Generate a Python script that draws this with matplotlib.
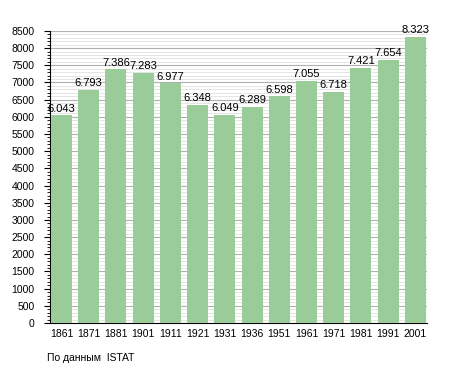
import matplotlib.pyplot as plt
from matplotlib.ticker import MultipleLocator

years = ['1861', '1871', '1881', '1901', '1911', '1921', '1931', '1936',
         '1951', '1961', '1971', '1981', '1991', '2001']
population = [6043, 6793, 7386, 7283, 6977, 6348, 6049, 6289,
              6598, 7055, 6718, 7421, 7654, 8323]

fig = plt.figure(figsize=(4.55, 3.73), dpi=100)
ax = fig.add_axes([0.11, 0.134, 0.828, 0.783])

x = range(len(years))
ax.bar(x, population, width=0.77, color='#99cc99', zorder=3)
for i, v in zip(x, population):
    label = '{:,}'.format(v).replace(',', '.')
    ax.text(i, v + 50, label, ha='center', va='bottom', fontsize=8,
            family='Liberation Sans', zorder=4)

ax.set_xlim(-0.42, len(years) - 0.58)
ax.set_ylim(0, 8500)
ax.yaxis.set_major_locator(MultipleLocator(500))
ax.yaxis.set_minor_locator(MultipleLocator(100))
ax.grid(axis='y', which='major', color='#b0b0b0', linewidth=0.8, zorder=0)
ax.grid(axis='y', which='minor', color='#e0e0e0', linewidth=0.6, zorder=0)
ax.set_xticks(list(x))
ax.set_xticklabels(years)
ax.tick_params(axis='x', length=0, pad=4)
ax.tick_params(axis='y', which='major', length=4, pad=7)
ax.tick_params(axis='y', which='minor', length=2)
for lab in ax.get_xticklabels() + ax.get_yticklabels():
    lab.set_fontsize(7.5)
    lab.set_family('Liberation Sans')
ax.spines['top'].set_visible(False)
ax.spines['right'].set_visible(False)

fig.text(47 / 455, 1 - 358 / 373, 'По данным  ISTAT', fontsize=7.5,
         family='Liberation Sans', va='center')

fig.savefig('out.png', dpi=100)
